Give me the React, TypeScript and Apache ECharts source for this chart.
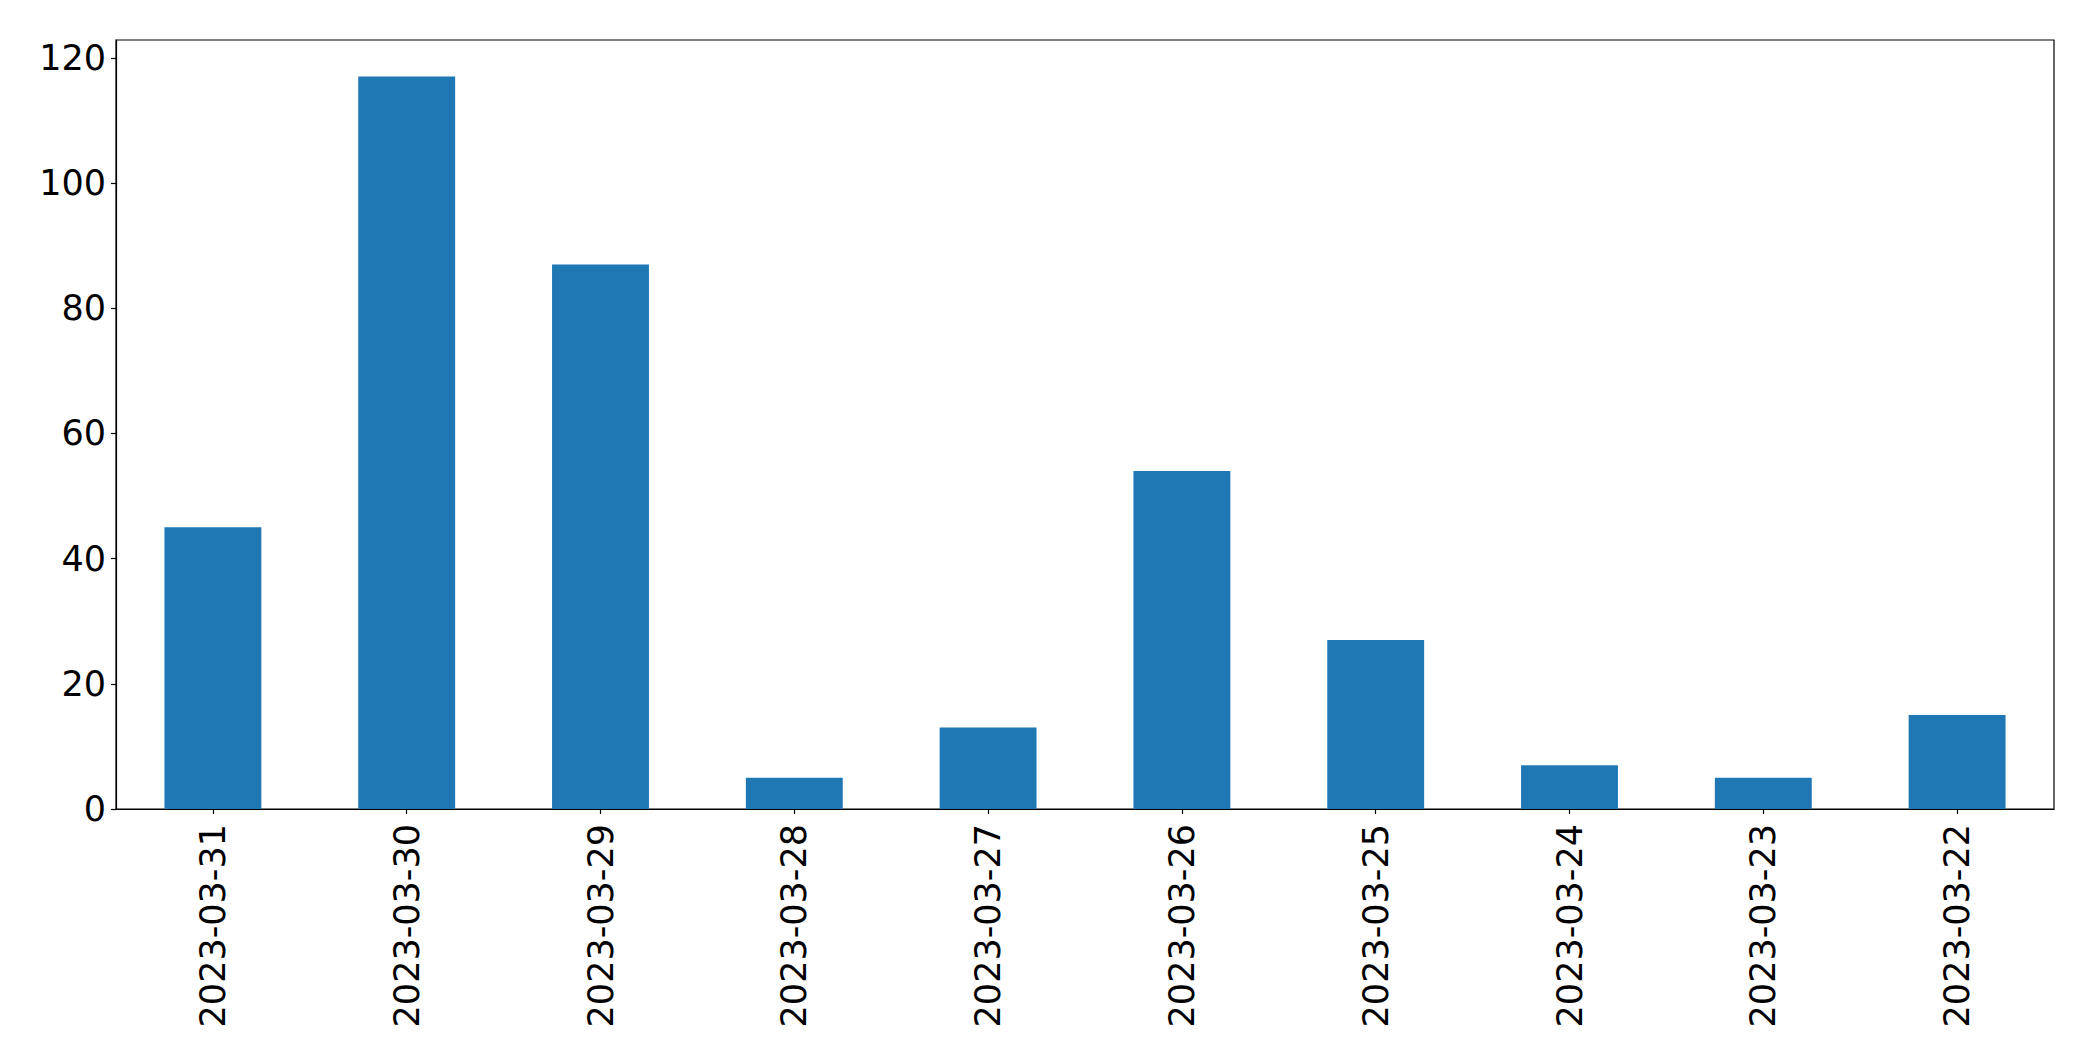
import React, { useEffect, useRef } from "react";
import * as echarts from "echarts";

const categories = [
  "2023-03-31",
  "2023-03-30",
  "2023-03-29",
  "2023-03-28",
  "2023-03-27",
  "2023-03-26",
  "2023-03-25",
  "2023-03-24",
  "2023-03-23",
  "2023-03-22",
];
const values = [45, 117, 87, 5, 13, 54, 27, 7, 5, 15];
const yMax = 122.85;
const yInterval = 20;

export default function App() {
  const ref = useRef<HTMLDivElement>(null);
  useEffect(() => {
    if (!ref.current) return;
    const chart = echarts.init(ref.current, null, { renderer: "svg" });
    const font = "DejaVu Sans";
    chart.setOption({
      animation: false,
      backgroundColor: "#ffffff",
      grid: {
        left: 116,
        top: 40,
        right: 39,
        bottom: 252,
        show: true,
        borderColor: "#000000",
        borderWidth: 1.2,
        containLabel: false,
      },
      xAxis: {
        type: "category",
        data: categories,
        boundaryGap: true,
        axisLine: { show: true, lineStyle: { color: "#000000", width: 1.2 } },
        axisTick: {
          show: true,
          alignWithLabel: true,
          length: 5,
          lineStyle: { color: "#000000", width: 1.2 },
        },
        axisLabel: {
          rotate: 90,
          margin: 15,
          color: "#000000",
          fontFamily: font,
          fontSize: 35,
          interval: 0,
        },
        splitLine: { show: false },
      },
      yAxis: {
        type: "value",
        min: 0,
        max: yMax,
        interval: yInterval,
        axisLine: { show: true, lineStyle: { color: "#000000", width: 1.2 } },
        axisTick: { show: true, length: 5, lineStyle: { color: "#000000", width: 1.2 } },
        axisLabel: {
          margin: 10,
          color: "#000000",
          fontFamily: font,
          fontSize: 35,
          showMaxLabel: false,
          formatter: (v: number) => (Math.abs(v % yInterval) < 1e-6 ? String(v) : ""),
        },
        splitLine: { show: false },
      },
      series: [
        {
          type: "bar",
          data: values,
          barWidth: "50%",
          itemStyle: { color: "#1f77b4" },
        },
      ],
    });
    return () => chart.dispose();
  }, []);
  return (
    <div
      ref={ref}
      style={{ position: "fixed", left: 0, top: 0, width: 2093, height: 1061, background: "#fff" }}
    />
  );
}
